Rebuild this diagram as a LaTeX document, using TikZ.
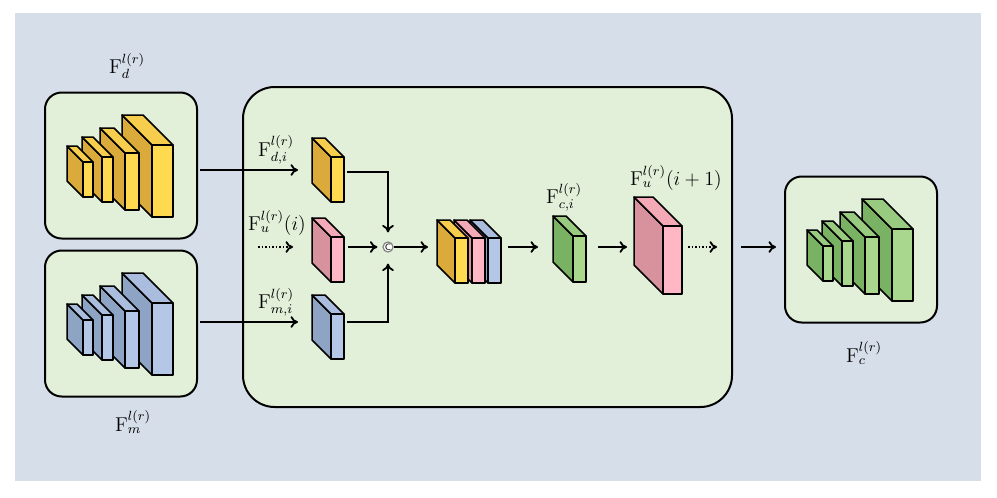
\documentclass[tikz,border=0pt]{standalone}
\usepackage{amsmath}
\usetikzlibrary{arrows.meta}

\definecolor{bgcol}{RGB}{214,222,233}
\definecolor{boxcol}{RGB}{226,240,217}
\definecolor{yellowF}{RGB}{255,217,80}
\definecolor{yellowS}{RGB}{218,170,58}
\definecolor{yellowT}{RGB}{247,205,78}
\definecolor{pinkF}{RGB}{255,183,197}
\definecolor{pinkS}{RGB}{216,146,158}
\definecolor{pinkT}{RGB}{244,170,182}
\definecolor{blueF}{RGB}{180,199,231}
\definecolor{blueS}{RGB}{142,164,196}
\definecolor{blueT}{RGB}{170,189,222}
\definecolor{greenF}{RGB}{169,215,142}
\definecolor{greenS}{RGB}{122,178,100}
\definecolor{greenT}{RGB}{152,203,128}

% block: name, colour, x, y (front top left), width, height, depth
\newcommand{\featblock}[7]{%
  \filldraw[blockline, fill=#2S] (#3,#4) -- ++(-#7,-#7) -- ++(0,#6) -- ++(#7,#7) -- cycle;
  \filldraw[blockline, fill=#2T] (#3,#4) -- ++(-#7,-#7) -- ++(#5,0) -- ++(#7,#7) -- cycle;
  \node[blockfront, fill=#2F, minimum width=#5*0.6pt, minimum height=#6*0.6pt] (#1) at (#3,#4) {};
}
% stack of four blocks round a box centre
\newcommand{\featstack}[4]{%
  \begin{scope}[shift={(#3,#4)}]
    \foreach \bx/\by/\bw/\bh/\bd [count=\k] in {31/-20.5/21/72/30, 4/-12.5/14/57/25, -19/-8.5/11/45/20, -38/-3.5/10/35/16}
      {\featblock{#1\k}{#2}{\bx}{\by}{\bw}{\bh}{\bd}}
  \end{scope}}

\begin{document}
\begin{tikzpicture}
  [x=0.6pt,y=-0.6pt,
   font=\fontsize{12}{14}\selectfont,
   blockline/.style={draw=black,line width=0.9pt,line join=round},
   blockfront/.style={blockline,anchor=north west,inner sep=0pt,outer sep=0pt},
   panel/.style={draw=black,line width=1.2pt,fill=boxcol,rounded corners=10pt,
                 minimum width=152*0.6pt,minimum height=146*0.6pt,inner sep=0pt},
   arr/.style={line width=1.1pt,-{To[length=4.5pt,width=7pt]}},
   darr/.style={arr,densely dotted}]

  \useasboundingbox (0,0) rectangle (997,497);
  \fill[bgcol] (15,13) rectangle (981,481);

  \node[panel] (dbox) at (121,165.5) {};
  \node[panel] (mbox) at (121,323.5) {};
  \node[panel] (cbox) at (861,249.5) {};
  \node[panel,rounded corners=19pt,minimum width=489*0.6pt,minimum height=320*0.6pt] (fuse) at (487.5,247) {};

  \featstack{d}{yellow}{121}{165.5}
  \featstack{m}{blue}{121}{323.5}
  \featstack{c}{green}{861}{249.5}

  \node (Fd) at (127,66) {$\mathrm{F}_d^{l(r)}$};
  \node (Fm) at (133,422) {$\mathrm{F}_m^{l(r)}$};
  \node (Fc) at (864,353) {$\mathrm{F}_c^{l(r)}$};

  \featblock{di}{yellow}{331}{157}{13}{45}{19}
  \featblock{ui}{pink}{331}{237}{13}{45}{19}
  \featblock{mi}{blue}{331}{314}{13}{45}{19}

  \featblock{cat3}{blue}{488}{238}{13}{45}{18}
  \featblock{cat2}{pink}{472}{238}{13}{45}{18}
  \featblock{cat1}{yellow}{455}{238}{13}{45}{18}

  \featblock{ci}{green}{573}{236}{13}{46}{20}
  \featblock{un}{pink}{663}{226}{19}{68}{29}

  \node (Fdi) at (276,150) {$\mathrm{F}_{d,i}^{l(r)}$};
  \node (Fui) at (277,223) {$\mathrm{F}_u^{l(r)}(i)$};
  \node (Fmi) at (276,302) {$\mathrm{F}_{m,i}^{l(r)}$};
  \node (Fci) at (564,197) {$\mathrm{F}_{c,i}^{l(r)}$};
  \node (Fun) at (676,178) {$\mathrm{F}_u^{l(r)}(i+1)$};

  \node[circle,draw=gray,fill=white,line width=0.7pt,inner sep=0pt,minimum size=10*0.6pt,
        font=\fontsize{5.5}{5.5}\sffamily] (cat) at (388,247) {C};

  \coordinate (dout) at (200,170);
  \coordinate (din)  at (298,170);
  \coordinate (mout) at (200,322);
  \coordinate (min)  at (298,322);
  \coordinate (uout) at (258,247);
  \coordinate (uin)  at (293,247);
  \coordinate (catin) at (428,247);
  \coordinate (catout) at (508,247);
  \coordinate (ciin) at (538,247);
  \coordinate (ciout) at (598,247);
  \coordinate (unin) at (627,247);
  \coordinate (unout) at (688,247);
  \coordinate (undot) at (717,247);

  \foreach \from/\to in {dout/din, mout/min, cat/catin, catout/ciin, ciout/unin}
    \draw[arr] (\from) -- (\to);
  \foreach \from/\to in {uout/uin, unout/undot}
    \draw[darr] (\from) -- (\to);
  \draw[arr] ([shift={(3,-7.5)}]di.east) -| ([yshift=9*0.6pt]cat.north);
  \draw[arr] ([shift={(3,-14.5)}]mi.east) -| ([yshift=-11*0.6pt]cat.south);
  \draw[arr,shorten >=5*0.6pt] ([shift={(4,-12.5)}]ui.east) -- (cat);
  \draw[arr,shorten <=8*0.6pt,shorten >=8*0.6pt] (fuse.east) -- (fuse.east -| cbox.west);

\end{tikzpicture}
\end{document}
